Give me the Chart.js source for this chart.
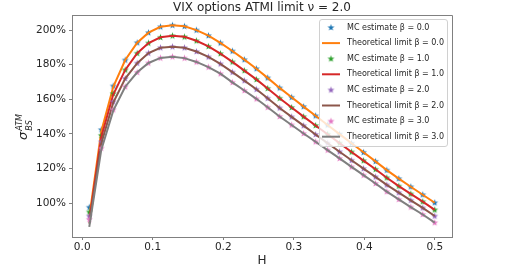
<!DOCTYPE html>
<html>
<head>
<meta charset="utf-8">
<script src="https://cdn.jsdelivr.net/npm/chart.js@4.4.0/dist/chart.umd.min.js"></script>
<style>
    html, body { margin: 0; padding: 0; background: #fff; }
    #wrap { width: 511px; height: 269px; }
</style>
</head>
<body>
<div id="wrap"><canvas id="chart" width="511" height="269"></canvas></div>
<script>
// Datos
const H_VALUES = [0.010, 0.027, 0.044, 0.061, 0.078, 0.094, 0.111, 0.128, 0.145, 0.162,
                  0.179, 0.196, 0.213, 0.230, 0.247, 0.263, 0.280, 0.297, 0.314, 0.331,
                  0.348, 0.365, 0.382, 0.399, 0.416, 0.432, 0.449, 0.466, 0.483, 0.500];

// MC estimates (%)
const MC_BETA0 = [97.7, 142.5, 167.7, 182.7, 192.7, 198.5, 201.9, 202.8, 202.2, 200.0,
                  196.8, 192.6, 187.9, 182.9, 177.7, 172.4, 166.6, 161.2, 155.8, 150.5,
                  145.2, 139.9, 134.6, 129.4, 124.2, 119.1, 114.2, 109.5, 104.9, 100.3];
const MC_BETA1 = [95.0, 139.2, 163.3, 177.0, 186.6, 192.5, 195.8, 196.7, 196.1, 193.8,
                  190.6, 186.4, 181.6, 176.6, 171.5, 166.3, 160.6, 155.3, 150.0, 144.9,
                  139.8, 134.7, 129.6, 124.6, 119.6, 114.7, 109.9, 105.4, 100.9, 96.2];
const MC_BETA2 = [92.6, 135.5, 158.6, 172.0, 180.9, 186.7, 189.8, 190.4, 189.8, 187.6,
                  184.5, 180.5, 175.7, 170.8, 165.8, 160.6, 155.0, 149.9, 144.8, 139.7,
                  134.7, 129.7, 124.8, 120.0, 115.2, 110.6, 106.1, 101.7, 97.3, 92.6];
const MC_BETA3 = [90.7, 131.8, 154.0, 167.3, 175.6, 181.0, 183.9, 184.6, 183.8, 181.6,
                  178.6, 174.8, 169.8, 165.1, 160.3, 155.4, 150.1, 145.2, 140.3, 135.5,
                  130.7, 125.9, 121.0, 116.2, 111.4, 106.7, 102.2, 97.8, 93.5, 88.8];

// Límite teórico (%)
const TH_BETA0 = [92.0, 141.5, 167.2, 182.7, 192.7, 198.5, 201.9, 202.8, 202.2, 200.0,
                  196.8, 192.6, 187.9, 182.9, 177.7, 172.4, 166.6, 161.2, 155.8, 150.5,
                  145.2, 139.9, 134.6, 129.4, 124.2, 119.1, 114.2, 109.5, 104.9, 100.3];
const TH_BETA1 = [90.0, 138.2, 162.8, 177.0, 186.6, 192.5, 195.8, 196.7, 196.1, 193.8,
                  190.6, 186.4, 181.6, 176.6, 171.5, 166.3, 160.6, 155.3, 150.0, 144.9,
                  139.8, 134.7, 129.6, 124.6, 119.6, 114.7, 109.9, 105.4, 100.9, 96.2];
const TH_BETA2 = [88.2, 134.5, 158.1, 172.0, 180.9, 186.7, 189.8, 190.4, 189.8, 187.6,
                  184.5, 180.5, 175.7, 170.8, 165.8, 160.6, 155.0, 149.9, 144.8, 139.7,
                  134.7, 129.7, 124.8, 120.0, 115.2, 110.6, 106.1, 101.7, 97.3, 92.6];
const TH_BETA3 = [86.4, 130.8, 153.5, 167.3, 175.6, 181.0, 183.9, 184.6, 183.8, 181.6,
                  178.6, 174.8, 169.8, 165.1, 160.3, 155.4, 150.1, 145.2, 140.3, 135.5,
                  130.7, 125.9, 121.0, 116.2, 111.4, 106.7, 102.2, 97.8, 93.5, 88.8];

const BETAS = ['0.0', '1.0', '2.0', '3.0'];
const Y_TICKS = [100, 120, 140, 160, 180, 200];
const X_TICKS = [0.0, 0.1, 0.2, 0.3, 0.4, 0.5];

const MC_SERIES = [MC_BETA0, MC_BETA1, MC_BETA2, MC_BETA3];
const TH_SERIES = [TH_BETA0, TH_BETA1, TH_BETA2, TH_BETA3];

// Colores matplotlib (tab10)
const MC_COLORS = ['#1f77b4', '#2ca02c', '#9467bd', '#e377c2'];
const LINE_COLORS = ['#ff7f0e', '#d62728', '#8c564b', '#7f7f7f'];

const AXIS_COLOR = '#808080';
const TEXT_COLOR = '#262626';
const FONT = 'DejaVu Sans';

// Estrella rellena tipo marker '*' de matplotlib
function makeStar(color) {
    const c = document.createElement('canvas');
    c.width = 9; c.height = 9;
    const g = c.getContext('2d');
    g.fillStyle = color;
    g.beginPath();
    for (let k = 0; k < 10; k++) {
        const r = k % 2 ? 1.5 : 3.6;
        const a = -Math.PI / 2 + k * Math.PI / 5;
        g.lineTo(4.5 + r * Math.cos(a), 4.7 + r * Math.sin(a));
    }
    g.closePath();
    g.fill();
    return c;
}

const toPoints = arr => arr.map((v, i) => ({ x: H_VALUES[i], y: v }));

const datasets = [];
BETAS.forEach((b, i) => {
    datasets.push({
        label: 'MC estimate β = ' + b,
        kind: 'mc',
        data: toPoints(MC_SERIES[i]),
        showLine: false,
        pointStyle: makeStar(MC_COLORS[i]),
        pointRadius: 4,
        borderColor: MC_COLORS[i],
        backgroundColor: MC_COLORS[i],
        order: 7 - 2 * i
    });
    datasets.push({
        label: 'Theoretical limit β = ' + b,
        kind: 'line',
        data: toPoints(TH_SERIES[i]),
        showLine: true,
        borderColor: LINE_COLORS[i],
        backgroundColor: LINE_COLORS[i],
        borderWidth: 2,
        pointRadius: 0,
        tension: 0,
        order: 6 - 2 * i
    });
});

// Textos, marco y leyenda
const decorPlugin = {
    id: 'decor',
    afterDraw(chart) {
        const { ctx, chartArea: a } = chart;
        ctx.save();

        // marco (spines arriba y derecha)
        ctx.strokeStyle = AXIS_COLOR;
        ctx.lineWidth = 1;
        ctx.beginPath();
        ctx.moveTo(Math.round(a.left) + 0.5, Math.round(a.top) + 0.5);
        ctx.lineTo(Math.round(a.right) + 0.5, Math.round(a.top) + 0.5);
        ctx.lineTo(Math.round(a.right) + 0.5, Math.round(a.bottom) + 0.5);
        ctx.stroke();

        // título
        ctx.fillStyle = TEXT_COLOR;
        ctx.font = '12px ' + FONT;
        ctx.textAlign = 'center';
        ctx.textBaseline = 'alphabetic';
        ctx.fillText('VIX options ATMI limit ν = 2.0', (a.left + a.right) / 2, 11);

        // etiqueta eje x
        ctx.font = '12px ' + FONT;
        ctx.fillText('H', (a.left + a.right) / 2, 264);

        // etiqueta eje y: sigma_BS^ATM
        ctx.save();
        ctx.translate(27, 140);
        ctx.rotate(-Math.PI / 2);
        ctx.textAlign = 'left';
        ctx.font = 'italic 13px ' + FONT;
        ctx.fillText('σ', 0, 0);
        const sw = ctx.measureText('σ').width + 1;
        ctx.font = 'italic 8px ' + FONT;
        ctx.fillText('ATM', sw, -5);
        ctx.fillText('BS', sw, 4.5);
        ctx.restore();

        // leyenda
        const lx = 319.5, ly = 19.5, lw = 128, lh = 127;
        ctx.fillStyle = 'rgba(255,255,255,0.8)';
        ctx.strokeStyle = '#d0d0d0';
        ctx.beginPath();
        ctx.roundRect(lx, ly, lw, lh, 2.5);
        ctx.fill();
        ctx.stroke();

        ctx.font = '8px ' + FONT;
        ctx.textAlign = 'left';
        ctx.textBaseline = 'middle';
        chart.data.datasets.forEach((ds, i) => {
            const cy = 27.5 + i * 15.6;
            if (ds.kind === 'mc') {
                ctx.drawImage(ds.pointStyle, 331 - 4.5, cy - 4.5);
            } else {
                ctx.strokeStyle = ds.borderColor;
                ctx.lineWidth = 2;
                ctx.beginPath();
                ctx.moveTo(322, cy);
                ctx.lineTo(340, cy);
                ctx.stroke();
            }
            ctx.fillStyle = TEXT_COLOR;
            ctx.fillText(ds.label, 347, cy);
        });

        ctx.restore();
    }
};

new Chart(document.getElementById('chart'), {
    type: 'scatter',
    data: { datasets },
    plugins: [decorPlugin],
    options: {
        responsive: false,
        animation: false,
        layout: { padding: { top: 15, right: 59, bottom: 0, left: 0 } },
        plugins: {
            legend: { display: false },
            title: { display: false },
            tooltip: { enabled: false }
        },
        scales: {
            x: {
                type: 'linear',
                min: -0.0145,
                max: 0.5245,
                afterFit: s => { s.height = 32; },
                afterBuildTicks: s => { s.ticks = X_TICKS.map(v => ({ value: v })); },
                grid: { display: true, drawOnChartArea: false, drawTicks: true, tickLength: 3, color: AXIS_COLOR },
                border: { display: true, color: AXIS_COLOR },
                ticks: {
                    padding: 1,
                    color: TEXT_COLOR,
                    font: { family: FONT, size: 10.5 },
                    maxRotation: 0,
                    callback: v => v.toFixed(1)
                }
            },
            y: {
                type: 'linear',
                min: 80.5,
                max: 208.7,
                afterFit: s => { s.width = 72; },
                afterBuildTicks: s => { s.ticks = Y_TICKS.map(v => ({ value: v })); },
                grid: { display: true, drawOnChartArea: false, drawTicks: true, tickLength: 3, color: AXIS_COLOR },
                border: { display: true, color: AXIS_COLOR },
                ticks: {
                    padding: 3,
                    color: TEXT_COLOR,
                    font: { family: FONT, size: 10.5 },
                    callback: v => v + '%'
                }
            }
        }
    }
});
</script>
</body>
</html>
